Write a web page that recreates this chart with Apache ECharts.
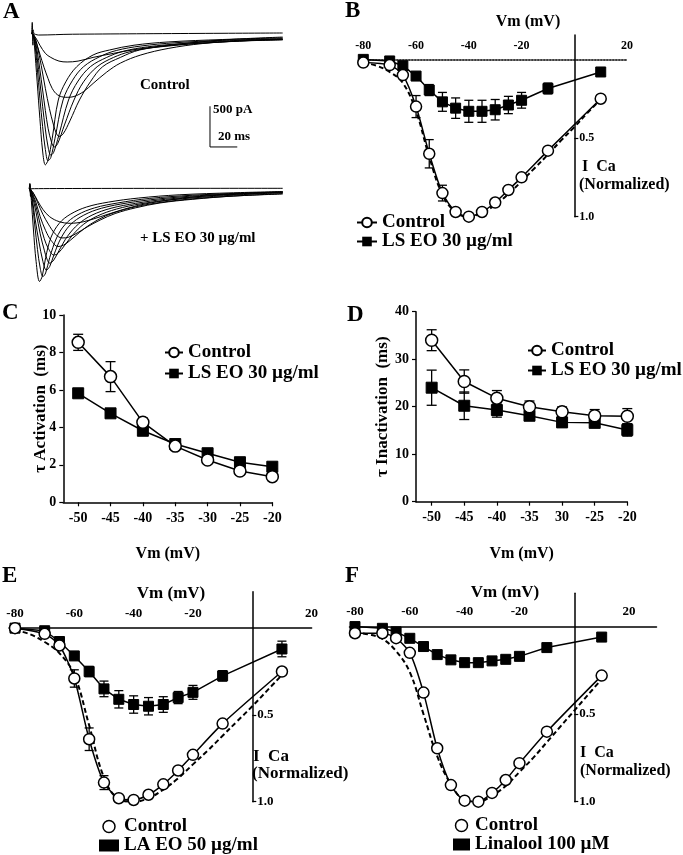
<!DOCTYPE html>
<html><head><meta charset="utf-8">
<script src="https://cdn.jsdelivr.net/npm/echarts@6.0.0/dist/echarts.min.js"></script>
<style>html,body{margin:0;padding:0;background:#fff}#c{width:683px;height:855px}</style>
</head><body><div id="c"></div>
<script>
const FONT = "'Liberation Serif','Times New Roman',serif";

// ---------- Panel A: current traces [time ms, current pA] ----------
const ctrlTrace1 = [[0,0],[0.4,130],[0.9,-150],[1.5,-10],[5,-25],[30,-15],[184,0]];
const ctrlTrace2 = [[0,0],[3,-60],[6,-150],[10,-250],[14,-300],[20,-345],[26,-356],[34,-345],[45,-300],[60,-250],[75,-205],[95,-160],[123,-110],[150,-75],[184,-50]];
const ctrlTrace3 = [[0,0],[3,-100],[6,-260],[9,-420],[12,-560],[15,-680],[19,-760],[25,-790],[31,-780],[38,-720],[45,-620],[55,-480],[65,-370],[80,-270],[100,-190],[125,-130],[155,-95],[184,-80]];
const ctrlTrace4 = [[0,0],[2,-40],[4,-150],[7,-400],[10,-680],[13,-930],[16,-1130],[18,-1230],[20,-1270],[23,-1240],[28,-1080],[35,-823],[43,-600],[52,-414],[65,-300],[79,-209],[100,-160],[130,-120],[160,-95],[184,-85]];
const ctrlTrace5 = [[0,0],[2,-60],[4,-220],[6,-450],[8,-700],[10,-950],[12,-1170],[14.5,-1340],[16.5,-1400],[19,-1360],[24,-1130],[31,-823],[38,-600],[48,-414],[60,-300],[72,-230],[90,-175],[115,-135],[150,-100],[184,-80]];
const ctrlTrace6 = [[0,0],[2,-80],[4,-300],[6,-600],[8,-900],[10,-1180],[12,-1400],[14,-1500],[16,-1470],[20,-1250],[27,-823],[34,-590],[43,-414],[55,-300],[67,-225],[85,-170],[110,-130],[145,-95],[184,-75]];
const ctrlTrace7 = [[0,0],[2,-100],[4,-420],[6,-800],[8,-1150],[10,-1430],[12,-1570],[14,-1530],[17,-1300],[23,-823],[30,-580],[38,-414],[50,-290],[62,-215],[80,-160],[105,-120],[140,-90],[184,-70]];
const ctrlTrace8 = [[0,0],[1,40],[2,-150],[4,-600],[6,-1050],[8,-1450],[10,-1620],[12,-1560],[15,-1300],[19.5,-823],[25,-600],[33,-414],[45,-270],[57,-209],[75,-150],[100,-110],[140,-80],[184,-60]];

const lseoTrace1 = [[0,0],[0.4,60],[0.9,-100],[1.5,-5],[186,0]];
const lseoTrace2 = [[0,0],[3,-60],[6,-150],[10,-260],[15,-350],[22,-410],[30,-430],[40,-410],[52,-350],[65,-280],[80,-210],[100,-150],[125,-100],[155,-65],[186,-45]];
const lseoTrace3 = [[0,0],[3,-60],[6,-170],[10,-320],[14,-440],[19,-560],[24,-610],[29,-600],[35,-550],[43,-470],[52,-390],[63,-310],[78,-240],[96,-180],[120,-135],[150,-95],[186,-70]];
const lseoTrace4 = [[0,0],[2,-50],[5,-180],[8,-350],[12,-520],[16,-640],[21,-715],[25,-700],[30,-640],[37,-540],[45,-440],[56,-340],[70,-260],[88,-195],[110,-145],[140,-105],[186,-65]];
const lseoTrace5 = [[0,0],[2,-60],[5,-230],[8,-440],[11,-620],[14,-740],[18,-820],[21,-800],[26,-700],[32,-570],[40,-440],[50,-340],[64,-255],[82,-190],[105,-140],[135,-100],[165,-70],[186,-55]];
const lseoTrace6 = [[0,0],[2,-80],[5,-300],[8,-560],[11,-760],[13,-870],[15,-920],[18,-880],[22,-760],[28,-590],[36,-440],[46,-330],[60,-245],[78,-185],[100,-135],[130,-95],[160,-68],[186,-50]];
const lseoTrace7 = [[0,0],[2,-110],[4,-350],[7,-650],[10,-900],[12.5,-1005],[15,-960],[18,-820],[23,-620],[30,-450],[40,-330],[53,-245],[72,-180],[95,-130],[125,-90],[160,-62],[186,-48]];
const lseoTrace8 = [[0,0],[2,-150],[4,-450],[6,-750],[8,-980],[10,-1085],[12,-1040],[15,-850],[20,-610],[26,-450],[35,-330],[48,-240],[65,-180],[88,-125],[120,-85],[155,-60],[186,-45]];
const lseoTrace9 = [[0,0],[0.5,50],[1.5,-150],[3,-500],[5,-900],[7.5,-1145],[9.5,-1080],[12,-850],[16,-600],[22,-430],[30,-320],[42,-230],[58,-170],[80,-120],[110,-80],[150,-55],[186,-40]];

// scale bar (data units of the control traces)
const scaleBarT = 130.7, scaleBarI = -1400, scaleBarPA = 500, scaleBarMS = 20;

// ---------- Panels B, E, F: I-V curves ----------
const vmIV = [-80,-70,-65,-60,-55,-50,-45,-40,-35,-30,-25,-20,-10,10];
const vmFit = [-80,-75,-70,-65,-60,-55,-50,-45,-40,-35,-30,-25,-20,-15,-10,-5,0,5,10];

const bControl    = [0.02,0.036,0.10,0.30,0.60,0.85,0.97,1.0,0.97,0.91,0.83,0.75,0.58,0.25];
const bControlErr = [0.01,0.01,0.01,0.07,0.09,0.05,0.01,0.01,0.01,0.01,0.01,0.01,0.01,0.01];
const bLSEO       = [0,0.01,0.04,0.106,0.195,0.27,0.31,0.33,0.33,0.32,0.29,0.26,0.185,0.08];
const bLSEOErr    = [0,0.01,0.01,0.02,0.035,0.06,0.065,0.07,0.07,0.065,0.055,0.05,0.035,0.02];
const bFit        = [0.02,0.04,0.08,0.15,0.33,0.62,0.86,0.97,1.0,0.975,0.925,0.855,0.775,0.69,0.605,0.515,0.43,0.34,0.255];

const eControl    = [0,0.033,0.10,0.29,0.64,0.89,0.98,0.99,0.96,0.90,0.82,0.73,0.55,0.25];
const eControlErr = [0.01,0.01,0.01,0.05,0.065,0.04,0.01,0.01,0.01,0.01,0.01,0.01,0.01,0.01];
const eLAEO       = [0,0.015,0.077,0.16,0.25,0.35,0.41,0.44,0.45,0.44,0.40,0.37,0.275,0.12];
const eLAEOErr    = [0,0.01,0.01,0.02,0.03,0.045,0.05,0.05,0.05,0.045,0.035,0.04,0.03,0.045];
const eFit        = [0.01,0.035,0.08,0.145,0.27,0.56,0.86,0.985,1.0,0.98,0.93,0.865,0.785,0.705,0.62,0.535,0.45,0.36,0.27];

const fControl    = [0.038,0.038,0.066,0.15,0.377,0.695,0.905,0.994,1.0,0.95,0.876,0.78,0.60,0.28];
const fLinalool   = [0,0.01,0.03,0.067,0.114,0.16,0.19,0.206,0.206,0.196,0.187,0.17,0.12,0.06];
const fFit        = [0.035,0.045,0.07,0.14,0.26,0.50,0.74,0.90,0.99,1.0,0.965,0.91,0.83,0.75,0.66,0.57,0.48,0.39,0.30];

const ivXTicks = [-80,-60,-40,-20,20];
const ivYTicks = [0.5,1.0];

// ---------- Panels C, D: time constants ----------
const vmTau = [-50,-45,-40,-35,-30,-25,-20];
const cControl    = [8.54,6.71,4.27,3.0,2.26,1.67,1.37];
const cControlErr = [0.43,0.8,0.22,0.1,0.1,0.05,0.05];
const cLSEO       = [5.82,4.75,3.82,3.11,2.62,2.14,1.9];
const cLSEOErr    = [0.1,0.1,0.1,0.1,0.1,0.1,0.1];
const dControl    = [34.0,25.3,21.8,20.0,18.95,18.1,18.0];
const dControlErr = [2.2,2.45,1.6,1.2,1.0,1.3,1.6];
const dLSEO       = [24.0,20.2,19.3,18.1,16.7,16.6,15.1];
const dLSEOErr    = [3.7,2.9,1.5,1.0,1.0,0.8,1.3];
const cXTickLabels = ['-50','-45','-40','-35','-30','-25','-20'];
const dXTickLabels = ['-50','-45','-40','-35','30','-25','-20'];

const NAME_CTRL = 'Control', NAME_LS = 'LS EO 30 µg/ml', NAME_LA = 'LA EO 50 µg/ml', NAME_LIN = 'Linalool 100 µM';

// ---------- helpers ----------
const pairs = (xs, ys) => xs.map((x, i) => [x, ys[i]]);
const txt = (size) => ({fontFamily: FONT, fontWeight: 'bold', fontSize: size, color: '#000'});

const grids = [
  {left: 31.7, right: 400.3, top: 20.79, bottom: 683.62},   // A control
  {left: 29.3, right: 400.3, top: 180.16, bottom: 569.02},  // A LS EO
  {left: 360.66, right: 55.9, top: 35, bottom: 638.3},      // B
  {left: 63.3, right: 410.7, top: 315, bottom: 352.7},      // C
  {left: 416, right: 55.7, top: 311.7, bottom: 353.3},      // D
  {left: 9.07, right: 371.4, top: 591.7, bottom: 53.3},     // E
  {left: 349.5, right: 26.5, top: 593.3, bottom: 53.3}      // F
].map(g => Object.assign({outerBoundsMode: 'none', containLabel: false}, g));
const gridW = g => 683 - grids[g].left - grids[g].right;
const gridH = g => 855 - grids[g].top - grids[g].bottom;

function traceSeries(g, data) {
  return {type: 'line', xAxisIndex: g, yAxisIndex: g, data: data, symbol: 'none', smooth: 0.35,
    lineStyle: {color: '#000', width: 1}, silent: true, z: 2};
}
function ctrlSeries(g, xs, ys, size, smooth) {
  return {type: 'line', name: NAME_CTRL, xAxisIndex: g, yAxisIndex: g, data: pairs(xs, ys),
    symbol: 'circle', symbolSize: size, smooth: smooth,
    itemStyle: {color: '#fff', borderColor: '#000', borderWidth: 1.5},
    lineStyle: {color: '#000', width: 1.5}, z: 4, silent: true};
}
function treatSeries(g, name, xs, ys, size) {
  return {type: 'line', name: name, xAxisIndex: g, yAxisIndex: g, data: pairs(xs, ys),
    symbol: 'rect', symbolSize: size,
    itemStyle: {color: '#000', borderColor: '#000'},
    lineStyle: {color: '#000', width: 1.5}, z: 3, silent: true};
}
function fitSeries(g, xs, ys) {
  return {type: 'line', name: 'fit', xAxisIndex: g, yAxisIndex: g, data: pairs(xs, ys),
    symbol: 'none', smooth: 0.4, lineStyle: {color: '#000', width: 2, type: [5, 3]}, z: 2, silent: true};
}
function errSeries(g, xs, ys, es, cap) {
  return {type: 'custom', name: 'err', xAxisIndex: g, yAxisIndex: g, z: 2, silent: true,
    data: xs.map((x, i) => [x, ys[i] - es[i], ys[i] + es[i]]),
    encode: {x: 0, y: [1, 2]},
    renderItem: function (params, api) {
      const x = api.value(0);
      const p1 = api.coord([x, api.value(1)]), p2 = api.coord([x, api.value(2)]);
      const st = {stroke: '#000', lineWidth: 1.3};
      return {type: 'group', children: [
        {type: 'line', shape: {x1: p1[0], y1: p1[1], x2: p2[0], y2: p2[1]}, style: st},
        {type: 'line', shape: {x1: p1[0] - cap, y1: p1[1], x2: p1[0] + cap, y2: p1[1]}, style: st},
        {type: 'line', shape: {x1: p2[0] - cap, y1: p2[1], x2: p2[0] + cap, y2: p2[1]}, style: st}
      ]};
    }};
}
// I-V axes cross at the origin: x axis sits at I = 0, y axis at Vm = 0 (placed with offsets)
function ivXAxis(g, min, max, ymin, dotted, fs, margin) {
  const off = -((0 - ymin) / (1 - ymin)) * gridH(g);
  return {gridIndex: g, type: 'value', min: min, max: max, position: 'top', offset: off,
    axisLine: {onZero: false, lineStyle: {color: '#000', width: 1.5, type: dotted ? 'dotted' : 'solid'}},
    axisTick: {show: false}, splitLine: {show: false},
    axisLabel: Object.assign({customValues: ivXTicks, margin: margin, formatter: v => String(v)}, txt(fs))};
}
function ivYAxis(g, min, xmin, xmax, fs) {
  const off = -((0 - xmin) / (xmax - xmin)) * gridW(g);
  return {gridIndex: g, type: 'value', inverse: true, min: min, max: 1, position: 'left', offset: off,
    axisLine: {onZero: false, lineStyle: {color: '#000', width: 1.5}},
    axisTick: {show: true, inside: true, length: 4, customValues: ivYTicks, lineStyle: {color: '#000', width: 1.2}},
    splitLine: {show: false},
    axisLabel: Object.assign({inside: true, customValues: ivYTicks, margin: 5, formatter: v => v.toFixed(1)}, txt(fs))};
}
function tauXAxis(g, min, labels) {
  return {gridIndex: g, type: 'value', min: min, max: -20,
    axisLine: {onZero: false, lineStyle: {color: '#000', width: 1.5}},
    axisTick: {show: true, customValues: vmTau, length: 4, lineStyle: {color: '#000', width: 1.2}},
    splitLine: {show: false},
    axisLabel: Object.assign({customValues: vmTau, margin: 9, formatter: v => labels[vmTau.indexOf(v)]}, txt(14)),
    name: 'Vm (mV)', nameLocation: 'middle', nameGap: 44, nameMoveOverlap: false, nameTextStyle: txt(16)};
}
function tauYAxis(g, max, interval, name, gap) {
  return {gridIndex: g, type: 'value', min: 0, max: max, interval: interval,
    axisLine: {onZero: false, lineStyle: {color: '#000', width: 1.5}},
    axisTick: {show: true, length: 4, lineStyle: {color: '#000', width: 1.2}},
    splitLine: {show: false},
    axisLabel: Object.assign({margin: 7}, txt(14)),
    name: name, nameLocation: 'middle', nameRotate: 90, nameGap: gap, nameMoveOverlap: false, nameTextStyle: txt(17)};
}
function legend(left, top, gap, iw, data) {
  return {left: left, top: top, orient: 'vertical', itemWidth: iw, itemHeight: 12, itemGap: gap,
    selectedMode: false, data: data, padding: 0, height: 60,
    textStyle: Object.assign({lineHeight: 18}, txt(19))};
}
function label(text, x, y, size, align) {
  return {type: 'text', silent: true, style: {text: text, x: x, y: y, align: align || 'left', verticalAlign: 'middle',
    font: 'bold ' + size + 'px ' + FONT, fill: '#000'}};
}

const xAxes = [
  {gridIndex: 0, type: 'value', min: 0, max: 184, show: false},
  {gridIndex: 1, type: 'value', min: 0, max: 186, show: false},
  ivXAxis(2, -81, 20, -0.155, true, 12, 7),
  tauXAxis(3, -52.3, cXTickLabels),
  tauXAxis(4, -52.4, dXTickLabels),
  ivXAxis(5, -82, 20, -0.21, false, 13, 8),
  ivXAxis(6, -82, 30, -0.19, false, 13, 8)
];
const yAxes = [
  {gridIndex: 0, type: 'value', min: -1700, max: 150, show: false},
  {gridIndex: 1, type: 'value', min: -1200, max: 100, show: false},
  ivYAxis(2, -0.155, -81, 20, 12),
  tauYAxis(3, 10, 2, 'τ Activation  (ms)', 14),
  tauYAxis(4, 40, 10, 'τ Inactivation  (ms)', 25),
  ivYAxis(5, -0.21, -82, 20, 13),
  ivYAxis(6, -0.19, -82, 30, 13)
];

const series = [];
[ctrlTrace1, ctrlTrace2, ctrlTrace3, ctrlTrace4, ctrlTrace5, ctrlTrace6, ctrlTrace7, ctrlTrace8]
  .forEach(t => series.push(traceSeries(0, t)));
[lseoTrace1, lseoTrace2, lseoTrace3, lseoTrace4, lseoTrace5, lseoTrace6, lseoTrace7, lseoTrace8, lseoTrace9]
  .forEach(t => series.push(traceSeries(1, t)));
series.push({type: 'line', xAxisIndex: 0, yAxisIndex: 0, symbol: 'none', silent: true,
  lineStyle: {color: '#000', width: 1},
  data: [[scaleBarT, scaleBarI + scaleBarPA], [scaleBarT, scaleBarI], [scaleBarT + scaleBarMS, scaleBarI]]});

// B
series.push(ctrlSeries(2, vmIV, bControl, 11, 0.25));
series.push(treatSeries(2, NAME_LS, vmIV, bLSEO, 10));
series.push(fitSeries(2, vmFit, bFit));
series.push(errSeries(2, vmIV, bControl, bControlErr, 4.5));
series.push(errSeries(2, vmIV, bLSEO, bLSEOErr, 4.5));
// C
series.push(ctrlSeries(3, vmTau, cControl, 12, false));
series.push(treatSeries(3, NAME_LS, vmTau, cLSEO, 11));
series.push(errSeries(3, vmTau, cControl, cControlErr, 5));
series.push(errSeries(3, vmTau, cLSEO, cLSEOErr, 5));
// D
series.push(ctrlSeries(4, vmTau, dControl, 12, false));
series.push(treatSeries(4, NAME_LS, vmTau, dLSEO, 11));
series.push(errSeries(4, vmTau, dControl, dControlErr, 5));
series.push(errSeries(4, vmTau, dLSEO, dLSEOErr, 5));
// E
series.push(ctrlSeries(5, vmIV, eControl, 11, 0.25));
series.push(treatSeries(5, NAME_LA, vmIV, eLAEO, 10));
series.push(fitSeries(5, vmFit, eFit));
series.push(errSeries(5, vmIV, eControl, eControlErr, 4.5));
series.push(errSeries(5, vmIV, eLAEO, eLAEOErr, 4.5));
// F
series.push(ctrlSeries(6, vmIV, fControl, 11, 0.25));
series.push(treatSeries(6, NAME_LIN, vmIV, fLinalool, 10));
series.push(fitSeries(6, vmFit, fFit));

const circleIcon = {color: '#fff', borderColor: '#000', borderWidth: 1.5};
const legends = [
  legend(356, 213, 0, 20, [NAME_CTRL, NAME_LS]),
  legend(164, 343, 2, 18, [NAME_CTRL, NAME_LS]),
  legend(527, 341, 1, 18, [NAME_CTRL, NAME_LS]),
  legend(99, 817, 0, 20, [{name: NAME_CTRL, icon: 'circle', itemStyle: circleIcon}, {name: NAME_LA, icon: 'rect'}]),
  legend(453, 816, 0, 17, [{name: NAME_CTRL, icon: 'circle', itemStyle: circleIcon}, {name: NAME_LIN, icon: 'rect'}])
];

const graphics = [
  label('A', 3, 12, 23), label('B', 345, 11, 23), label('C', 2, 313, 23),
  label('D', 347, 315, 23), label('E', 2, 576, 23), label('F', 345, 576, 23),
  label('Control', 140, 85, 15),
  label('+ LS EO 30 µg/ml', 140, 238, 15),
  label('500 pA', 213, 110, 13),
  label('20 ms', 218, 137, 13),
  label('Vm (mV)', 528, 22, 16, 'center'),
  label('I  Ca', 582, 167, 16),
  label('(Normalized)', 579, 185, 16),
  label('Vm (mV)', 171, 594, 17, 'center'),
  label('I  Ca', 253, 757, 17),
  label('(Normalized)', 252, 774, 17),
  label('Vm (mV)', 505, 593, 17, 'center'),
  label('I  Ca', 580, 753, 16),
  label('(Normalized)', 580, 771, 16)
];

const chart = echarts.init(document.getElementById('c'), null, {renderer: 'canvas'});
chart.setOption({
  backgroundColor: '#fff',
  animation: false,
  grid: grids,
  xAxis: xAxes,
  yAxis: yAxes,
  legend: legends,
  series: series,
  graphic: graphics
});
</script></body></html>
